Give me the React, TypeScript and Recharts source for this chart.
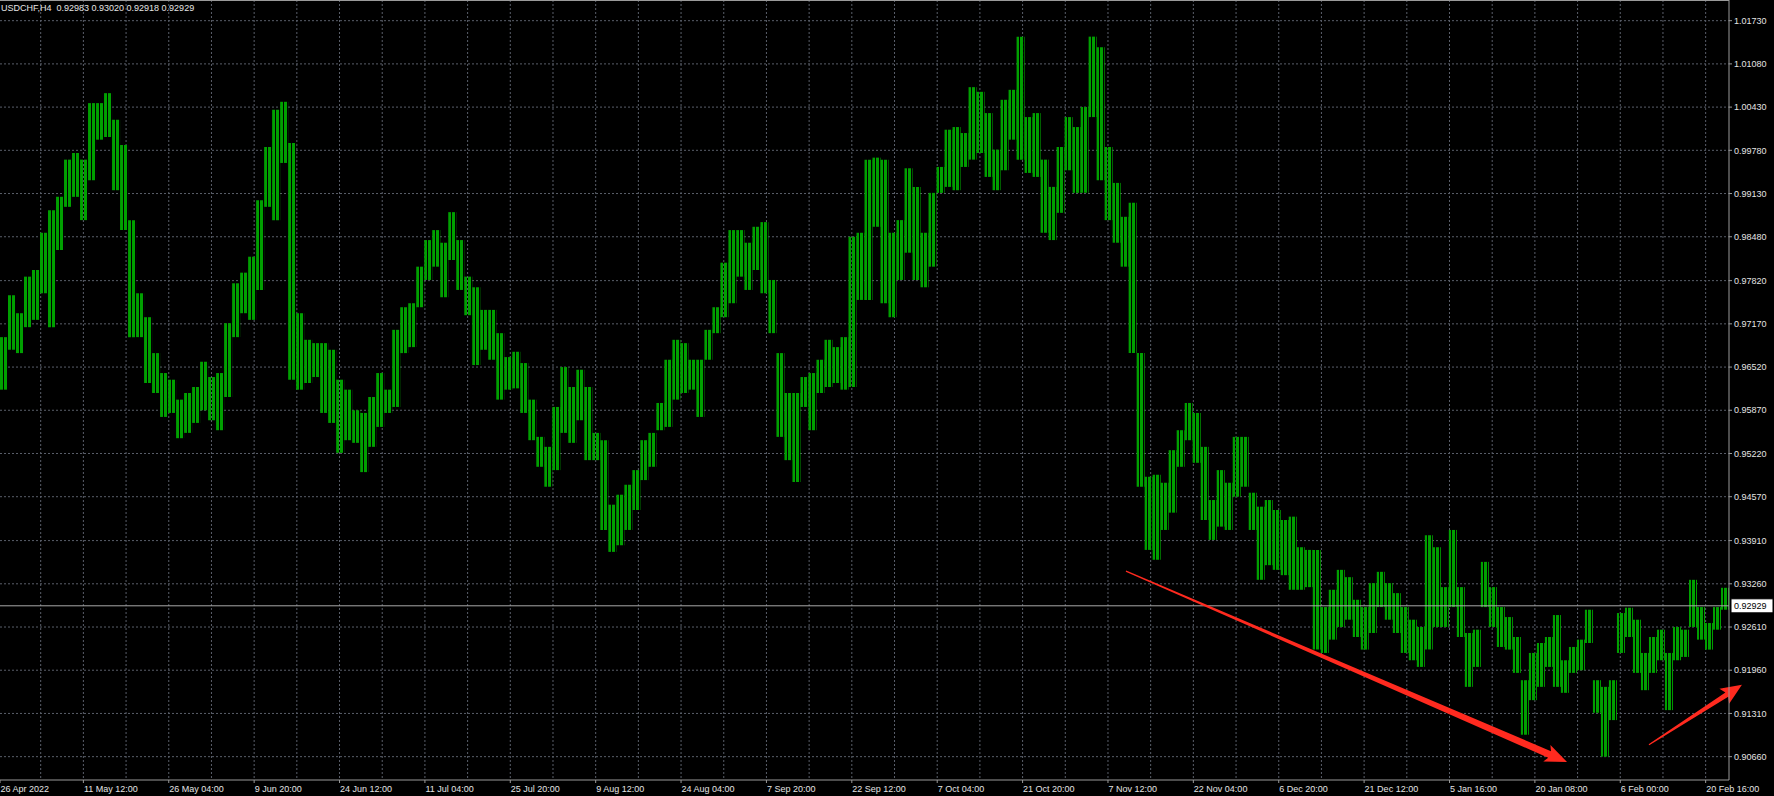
import React from 'react'
import { ComposedChart, Bar, XAxis, YAxis, CartesianGrid, ReferenceLine } from 'recharts'

const symbolTitle = 'USDCHF,H4  0.92983 0.93020 0.92918 0.92929'
const lastPrice = 0.92929

// one entry per trading day (6 x H4 bars), high and low
const highs = [
  0.9697, 0.9760, 0.9733, 0.9788, 0.9798, 0.9854, 0.9888, 0.9908, 0.9964, 0.9974, 0.9964, 1.0049,
  1.0049, 1.0064, 1.0024, 0.9986, 0.9873, 0.9763, 0.9727, 0.9673, 0.9643, 0.9633, 0.9603, 0.9613,
  0.9622, 0.9660, 0.9637, 0.9643, 0.9718, 0.9778, 0.9794, 0.9818, 0.9903, 0.9983, 1.0039, 1.0051,
  0.9989, 0.9733, 0.9693, 0.9688, 0.9688, 0.9678, 0.9633, 0.9618, 0.9587, 0.9583, 0.9607, 0.9643,
  0.9618, 0.9708, 0.9742, 0.9748, 0.9803, 0.9843, 0.9858, 0.9839, 0.9885, 0.9843, 0.9788, 0.9772,
  0.9738, 0.9738, 0.9703, 0.9667, 0.9675, 0.9658, 0.9603, 0.9547, 0.9532, 0.9592, 0.9652, 0.9622,
  0.9648, 0.9622, 0.9553, 0.9542, 0.9445, 0.9460, 0.9475, 0.9497, 0.9542, 0.9553, 0.9598, 0.9663,
  0.9693, 0.9688, 0.9663, 0.9663, 0.9708, 0.9742, 0.9809, 0.9858, 0.9858, 0.9839, 0.9863, 0.9870,
  0.9783, 0.9673, 0.9613, 0.9613, 0.9637, 0.9643, 0.9663, 0.9693, 0.9682, 0.9697, 0.9848, 0.9854,
  0.9964, 0.9967, 0.9964, 0.9854, 0.9873, 0.9951, 0.9923, 0.9854, 0.9914, 0.9953, 1.0009, 1.0013,
  1.0004, 1.0073, 1.0066, 1.0034, 0.9979, 1.0054, 1.0069, 1.0149, 1.0028, 1.0034, 0.9964, 0.9923,
  0.9983, 1.0028, 1.0013, 1.0043, 1.0149, 1.0133, 0.9983, 0.9929, 0.9878, 0.9899, 0.9673, 0.9487,
  0.9490, 0.9478, 0.9527, 0.9557, 0.9598, 0.9583, 0.9532, 0.9452, 0.9497, 0.9478, 0.9547, 0.9547,
  0.9463, 0.9442, 0.9452, 0.9437, 0.9422, 0.9427, 0.9381, 0.9377, 0.9377, 0.9291, 0.9317, 0.9347,
  0.9336, 0.9302, 0.9291, 0.9327, 0.9344, 0.9327, 0.9312, 0.9291, 0.9272, 0.9261, 0.9399, 0.9381,
  0.9321, 0.9407, 0.9321, 0.9252, 0.9257, 0.9359, 0.9321, 0.9291, 0.9276, 0.9246, 0.9181, 0.9222,
  0.9237, 0.9246, 0.9279, 0.9211, 0.9231, 0.9242, 0.9287, 0.9181, 0.9171, 0.9181, 0.9282, 0.9290,
  0.9272, 0.9222, 0.9246, 0.9257, 0.9222, 0.9261, 0.9257, 0.9332, 0.9291, 0.9267, 0.9291, 0.9320,
]

const lows = [
  0.9618, 0.9678, 0.9673, 0.9712, 0.9723, 0.9763, 0.9712, 0.9828, 0.9893, 0.9908, 0.9873, 0.9933,
  0.9994, 0.9998, 0.9918, 0.9858, 0.9697, 0.9697, 0.9628, 0.9613, 0.9577, 0.9583, 0.9545, 0.9553,
  0.9568, 0.9587, 0.9572, 0.9557, 0.9607, 0.9697, 0.9733, 0.9723, 0.9768, 0.9893, 0.9873, 0.9959,
  0.9633, 0.9618, 0.9628, 0.9637, 0.9583, 0.9568, 0.9523, 0.9542, 0.9538, 0.9494, 0.9532, 0.9562,
  0.9583, 0.9592, 0.9673, 0.9682, 0.9742, 0.9783, 0.9803, 0.9757, 0.9813, 0.9768, 0.9730, 0.9655,
  0.9678, 0.9663, 0.9603, 0.9618, 0.9620, 0.9583, 0.9542, 0.9502, 0.9472, 0.9497, 0.9553, 0.9538,
  0.9572, 0.9512, 0.9512, 0.9407, 0.9374, 0.9384, 0.9407, 0.9437, 0.9482, 0.9502, 0.9557, 0.9562,
  0.9603, 0.9613, 0.9618, 0.9577, 0.9663, 0.9703, 0.9727, 0.9748, 0.9788, 0.9768, 0.9798, 0.9763,
  0.9703, 0.9547, 0.9512, 0.9479, 0.9592, 0.9557, 0.9613, 0.9622, 0.9628, 0.9618, 0.9622, 0.9753,
  0.9753, 0.9863, 0.9748, 0.9727, 0.9783, 0.9824, 0.9783, 0.9772, 0.9803, 0.9914, 0.9923, 0.9918,
  0.9953, 0.9964, 0.9974, 0.9938, 0.9918, 0.9948, 0.9994, 0.9964, 0.9944, 0.9938, 0.9854, 0.9843,
  0.9884, 0.9948, 0.9914, 0.9914, 1.0028, 0.9933, 0.9873, 0.9839, 0.9803, 0.9673, 0.9472, 0.9377,
  0.9362, 0.9407, 0.9433, 0.9502, 0.9542, 0.9508, 0.9422, 0.9392, 0.9412, 0.9407, 0.9457, 0.9472,
  0.9407, 0.9332, 0.9354, 0.9347, 0.9339, 0.9317, 0.9317, 0.9321, 0.9227, 0.9222, 0.9242, 0.9261,
  0.9272, 0.9246, 0.9227, 0.9252, 0.9291, 0.9272, 0.9252, 0.9222, 0.9211, 0.9201, 0.9227, 0.9261,
  0.9261, 0.9291, 0.9246, 0.9171, 0.9201, 0.9291, 0.9261, 0.9231, 0.9227, 0.9192, 0.9099, 0.9151,
  0.9171, 0.9201, 0.9171, 0.9162, 0.9192, 0.9196, 0.9237, 0.9132, 0.9066, 0.9121, 0.9222, 0.9246,
  0.9192, 0.9166, 0.9192, 0.9211, 0.9136, 0.9211, 0.9216, 0.9261, 0.9242, 0.9227, 0.9257, 0.9287,
]

const timeLabels = [
  '26 Apr 2022', '11 May 12:00', '26 May 04:00', '9 Jun 20:00', '24 Jun 12:00', '11 Jul 04:00',
  '25 Jul 20:00', '9 Aug 12:00', '24 Aug 04:00', '7 Sep 20:00', '22 Sep 12:00', '7 Oct 04:00',
  '21 Oct 20:00', '7 Nov 12:00', '22 Nov 04:00', '6 Dec 20:00', '21 Dec 12:00', '5 Jan 16:00',
  '20 Jan 08:00', '6 Feb 00:00', '20 Feb 16:00',
]
// H4 bar index of each time label
const timeLabelBars = [
  0, 62.5, 126.5, 190.5, 254.5, 318.5, 382.5, 446.5, 510.5, 574.5, 638.5,
  702.5, 766.5, 830.5, 894.5, 958.5, 1022.5, 1086.5, 1150.5, 1214.5, 1278.5,
]
const gridBars = timeLabelBars.slice(1).flatMap((b) => [b - 32, b])

const priceTicks = [
  1.0173, 1.0108, 1.0043, 0.9978, 0.9913, 0.9848, 0.9782, 0.9717, 0.9652,
  0.9587, 0.9522, 0.9457, 0.9391, 0.9326, 0.9261, 0.9196, 0.9131, 0.9066,
]

// hand drawn red arrows (bar index, price)
const arrows = [
  { from: { x: 844, y: 0.9345 }, to: { x: 1174.6, y: 0.9058 }, head: 19, wing: 9, neck: 3.5 },
  { from: { x: 1236, y: 0.9084 }, to: { x: 1305.7, y: 0.9174 }, head: 18, wing: 9, neck: 2.6 },
]

const textColor = '#e4e4e4'
const frameColor = '#9a9a9a'
const barGreen = '#00a000'
const font = '"Liberation Sans", Arial, sans-serif'

function TimeTick(props: any) {
  const { x, y, payload } = props
  const idx = timeLabelBars.indexOf(payload.value)
  return (
    <text x={x + 0.5} y={y + 7} fill={textColor} fontSize={9} fontFamily={font} textAnchor="start">
      {timeLabels[idx]}
    </text>
  )
}

function PriceTag(props: any) {
  const vb = props.viewBox || {}
  const x = (vb.x ?? 0) + (vb.width ?? 0) + 2
  const y = (vb.y ?? 0) + (vb.height ?? 0) / 2
  return (
    <g>
      <rect x={x} y={y - 7} width={42} height={14} fill="#ffffff" stroke="#000" />
      <text x={x + 3} y={y + 3.5} fontSize={9} fontFamily={font} fill="#000">
        {lastPrice.toFixed(5)}
      </text>
    </g>
  )
}

function arrowShape(p: any, a: any) {
  const { x1, y1, x2, y2 } = p
  const dx = x2 - x1
  const dy = y2 - y1
  const len = Math.hypot(dx, dy) || 1
  const ux = dx / len
  const uy = dy / len
  const nx = -uy
  const ny = ux
  const bx = x2 - ux * a.head
  const by = y2 - uy * a.head
  const tail = 0.6
  const pts = [
    [x1 + nx * tail, y1 + ny * tail],
    [bx + nx * a.neck, by + ny * a.neck],
    [bx - ux * 3 + nx * a.wing, by - uy * 3 + ny * a.wing],
    [x2, y2],
    [bx - ux * 3 - nx * a.wing, by - uy * 3 - ny * a.wing],
    [bx - nx * a.neck, by - ny * a.neck],
    [x1 - nx * tail, y1 - ny * tail],
  ]
  return <polygon points={pts.map((q) => q.join(',')).join(' ')} fill="#ff2a1f" />
}

export default function App() {
  const data = highs.map((h, i) => ({ bar: i * 6 + 3, range: [lows[i], h] }))

  return (
    <div
      style={{
        position: 'fixed',
        left: 0,
        top: 0,
        width: 1774,
        height: 796,
        background: '#000',
        fontFamily: font,
        overflow: 'hidden',
      }}
    >
      <ComposedChart width={1774} height={796} data={data} margin={{ top: 0, right: 0, bottom: 0, left: 0 }}>
        <defs>
          {/* thin H4 bars packed side by side */}
          <pattern id="h4bars" width="4" height="4" patternUnits="userSpaceOnUse">
            <rect x="0" y="0" width="3" height="4" fill={barGreen} />
          </pattern>
        </defs>
        <CartesianGrid
          stroke="#5a5f6a"
          strokeDasharray="2 2"
          horizontalValues={priceTicks}
          verticalValues={gridBars}
        />
        <XAxis
          type="number"
          dataKey="bar"
          domain={[0, 1296]}
          ticks={timeLabelBars}
          interval={0}
          height={16}
          tickSize={3}
          tickMargin={2}
          axisLine={{ stroke: frameColor }}
          tickLine={{ stroke: frameColor }}
          tick={<TimeTick />}
          allowDataOverflow
        />
        <YAxis
          orientation="right"
          type="number"
          domain={[0.90309, 1.02041]}
          ticks={priceTicks}
          interval={0}
          width={45}
          tickSize={3}
          tickMargin={2}
          axisLine={{ stroke: frameColor }}
          tickLine={{ stroke: frameColor }}
          tick={{ fill: textColor, fontSize: 9, fontFamily: font }}
          tickFormatter={(v: number) => v.toFixed(5)}
          allowDataOverflow
        />
        <ReferenceLine y={lastPrice} stroke="#a8a8a8" ifOverflow="visible" label={(p: any) => <PriceTag {...p} />} />
        <Bar dataKey="range" fill="url(#h4bars)" barSize={8} isAnimationActive={false} />
        {arrows.map((a, i) => (
          <ReferenceLine
            key={i}
            segment={[a.from, a.to]}
            ifOverflow="visible"
            shape={(p: any) => arrowShape(p, a)}
          />
        ))}
      </ComposedChart>
      <div style={{ position: 'absolute', left: 0, top: 0, width: 1729, height: 1, background: frameColor }} />
      <div
        style={{
          position: 'absolute',
          left: 1,
          top: 3,
          color: textColor,
          fontSize: 9,
          lineHeight: '10px',
          whiteSpace: 'pre',
        }}
      >
        {symbolTitle}
      </div>
    </div>
  )
}
